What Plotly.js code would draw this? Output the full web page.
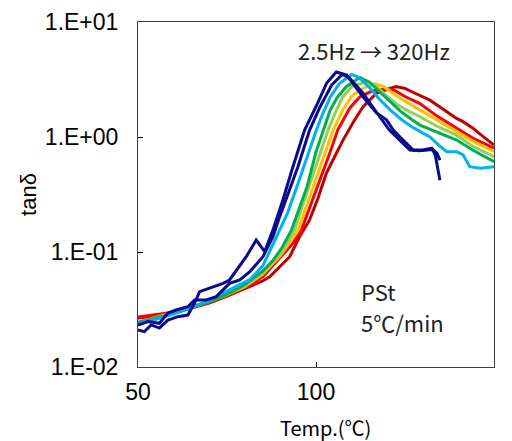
<!DOCTYPE html>
<html>
<head>
<meta charset="utf-8">
<script src="https://cdn.plot.ly/plotly-3.0.1.min.js"></script>
<style>
  html, body { margin: 0; padding: 0; background: #ffffff; }
  #chart { width: 512px; height: 441px; }
</style>
</head>
<body>
<div id="chart"></div>
<script>
// Frequencies (2.5Hz -> 320Hz)
const seriesNames = ['2.5Hz', '5Hz', '10Hz', '20Hz', '40Hz', '80Hz', '160Hz', '320Hz'];
const seriesColors = ['#0a0a8c', '#0a0a8c', '#00b0f0', '#00b050', '#92d050', '#ffc000', '#ff0000', '#c00000'];

// Temperature (°C) and tanδ for each frequency
const temp_2_5Hz = [50, 51.8, 53.7, 56, 58.4, 61.2, 64, 65.9, 67.3, 70.1, 73.9, 75.7, 78.6, 80.4, 83.2, 85.6, 87.9, 90.7, 93.5, 96.8, 100.5, 103, 105.7, 108.6, 113.2, 117, 119.8, 121.7, 123.6, 126.4, 127.3, 130, 132.5, 133.5, 134.8];
const tan_2_5Hz  = [0.021, 0.0203, 0.0232, 0.0218, 0.0256, 0.0274, 0.0283, 0.036, 0.0452, 0.0484, 0.0534, 0.0571, 0.0771, 0.091, 0.127, 0.1007, 0.155, 0.283, 0.548, 1.15, 1.98, 2.95, 3.67, 3.46, 2.24, 1.62, 1.41, 1.15, 1.0, 0.82, 0.77, 0.77, 0.80, 0.70, 0.42];

const temp_5Hz = [50, 52.8, 56, 58.4, 60.7, 64, 65.9, 69.2, 72, 75.7, 78.6, 81.4, 85.1, 87.9, 89.8, 94.9, 98.2, 101, 104.4, 107.4, 109.4, 113.2, 117.9, 120.6, 124.3, 126.4, 129, 132.8, 134, 134.8];
const tan_5Hz  = [0.0232, 0.0248, 0.024, 0.0295, 0.0313, 0.0334, 0.0383, 0.0383, 0.0409, 0.0534, 0.0571, 0.0674, 0.091, 0.136, 0.203, 0.548, 1.15, 1.79, 2.83, 3.5, 3.26, 2.41, 1.50, 1.15, 0.887, 0.77, 0.76, 0.78, 0.72, 0.63];

const temp_10Hz = [50, 55, 60, 65, 70, 75.7, 81.4, 85.1, 87.9, 89.8, 92, 95, 98, 100.1, 102, 104, 106.5, 110, 112, 115, 118, 121, 124, 127, 129.2, 132, 134.5, 136.7, 139.5, 141.3, 143.2, 146.1, 150];
const tan_10Hz  = [0.024, 0.026, 0.029, 0.033, 0.038, 0.047, 0.0575, 0.076, 0.118, 0.155, 0.218, 0.398, 0.74, 1.15, 1.62, 2.22, 2.9, 3.5, 3.3, 2.7, 2.1, 1.7, 1.42, 1.22, 1.12, 1.0, 0.85, 0.745, 0.745, 0.70, 0.552, 0.536, 0.552];

const temp_20Hz = [50, 60, 70, 75, 80, 85, 88, 90.5, 93.1, 95, 97.5, 100, 102, 104, 106, 108.5, 112.3, 115, 118, 121, 124, 126.5, 129.2, 134, 139.5, 144, 147, 150];
const tan_20Hz  = [0.0245, 0.029, 0.037, 0.043, 0.052, 0.068, 0.085, 0.11, 0.155, 0.222, 0.37, 0.74, 1.15, 1.72, 2.22, 2.74, 3.3, 3.0, 2.45, 2.0, 1.65, 1.45, 1.27, 1.10, 0.94, 0.77, 0.68, 0.61];

const temp_40Hz = [50, 60, 70, 75, 80, 85, 90, 94, 96, 98.5, 101, 103.4, 105.5, 107.5, 110, 114.5, 117, 120, 123, 126, 129.2, 134, 139.5, 144, 150];
const tan_40Hz  = [0.0242, 0.0293, 0.037, 0.0425, 0.051, 0.066, 0.097, 0.155, 0.241, 0.41, 0.70, 1.15, 1.65, 2.22, 2.74, 3.05, 2.75, 2.25, 1.9, 1.68, 1.50, 1.24, 1.04, 0.83, 0.674];

const temp_80Hz = [50, 55, 60, 65, 70, 75, 80, 85, 90, 93, 95, 96.8, 99.6, 102.4, 104.8, 107.5, 110, 112.9, 116.5, 119, 122, 125, 129.2, 134, 139.5, 144, 150];
const tan_80Hz  = [0.0245, 0.027, 0.0295, 0.033, 0.037, 0.0425, 0.050, 0.064, 0.093, 0.125, 0.155, 0.226, 0.404, 0.72, 1.15, 1.72, 2.26, 2.63, 2.9, 2.75, 2.35, 2.05, 1.72, 1.40, 1.11, 0.92, 0.745];

const temp_160Hz = [50, 55, 60, 65, 70, 75.7, 80, 85.1, 89, 93.5, 95.9, 98.2, 101, 103.9, 106.1, 109.5, 112.3, 115.7, 119.8, 122, 125, 129.2, 134, 139.5, 144, 150];
const tan_160Hz  = [0.0272, 0.0285, 0.030, 0.033, 0.037, 0.0423, 0.049, 0.061, 0.083, 0.119, 0.155, 0.24, 0.42, 0.73, 1.15, 1.79, 2.23, 2.51, 2.61, 2.55, 2.25, 1.95, 1.52, 1.19, 0.98, 0.80];

const temp_320Hz = [50, 55, 60, 65, 70, 75, 80, 85, 87, 92.6, 95.4, 98.2, 100.5, 102.9, 105.3, 107.6, 110.5, 113.2, 117, 120.7, 122.6, 125, 127.2, 130, 132, 134.5, 136.7, 139.5, 141.3, 144, 146.1, 148, 150];
const tan_320Hz  = [0.0267, 0.0278, 0.0295, 0.0326, 0.036, 0.0414, 0.048, 0.056, 0.061, 0.091, 0.136, 0.19, 0.29, 0.483, 0.68, 0.94, 1.35, 1.83, 2.40, 2.65, 2.74, 2.65, 2.45, 2.24, 2.09, 1.85, 1.67, 1.45, 1.36, 1.2, 1.06, 0.95, 0.85];

const temps = [temp_2_5Hz, temp_5Hz, temp_10Hz, temp_20Hz, temp_40Hz, temp_80Hz, temp_160Hz, temp_320Hz];
const tans  = [tan_2_5Hz, tan_5Hz, tan_10Hz, tan_20Hz, tan_40Hz, tan_80Hz, tan_160Hz, tan_320Hz];

// Axis ticks
const xTickVals = [50, 100, 150];
const xTickText = ['50', '100', '150'];
const yTickVals = [0.01, 0.1, 1, 10];
const yTickText = ['1.E-02', '1.E-01', '1.E+00', '1.E+01'];

// Draw 320Hz first so 2.5Hz ends on top
const traces = [];
for (let i = seriesNames.length - 1; i >= 0; i--) {
  traces.push({
    type: 'scatter', mode: 'lines', name: seriesNames[i],
    x: temps[i], y: tans[i],
    line: { color: seriesColors[i], width: 3 },
    showlegend: false, hoverinfo: 'skip'
  });
}

const latin = 'Liberation Sans, Arial, sans-serif';
const cjkFont = 'Noto Sans CJK JP, Noto Sans, sans-serif';
const axisFont = { family: latin, size: 23, color: '#000' };

const layout = {
  width: 512, height: 441,
  margin: { l: 138, r: 18, t: 22, b: 74 },
  paper_bgcolor: '#ffffff', plot_bgcolor: '#ffffff',
  showlegend: false,
  xaxis: {
    range: [50, 150], tickvals: xTickVals, ticktext: xTickText,
    ticks: 'inside', ticklen: 5, tickcolor: '#000', tickwidth: 1,
    showline: true, linecolor: '#404040', linewidth: 1, mirror: true,
    showgrid: false, zeroline: false,
    tickfont: axisFont, ticklabelstandoff: 4
  },
  yaxis: {
    type: 'log', range: [-2, 1], tickvals: yTickVals, ticktext: yTickText,
    ticks: 'inside', ticklen: 5, tickcolor: '#000', tickwidth: 1,
    showline: true, linecolor: '#404040', linewidth: 1, mirror: true,
    showgrid: false, zeroline: false,
    tickfont: axisFont, ticklabelstandoff: 14,
    title: { text: 'tanδ', font: { family: latin, size: 22, color: '#000' }, standoff: 2 }
  },
  annotations: [
    { text: 'Temp.(℃)', xref: 'paper', yref: 'paper', x: 0.528, y: -0.176, xanchor: 'center', yanchor: 'middle',
      showarrow: false, font: { family: cjkFont, size: 20, color: '#000' } },
    { text: '2.5Hz → 320Hz', xref: 'paper', yref: 'paper', x: 0.663, y: 0.919, xanchor: 'center', yanchor: 'middle',
      showarrow: false, font: { family: cjkFont, size: 22, color: '#222' } },
    { text: 'PSt', xref: 'paper', yref: 'paper', x: 0.622, y: 0.22, xanchor: 'left', yanchor: 'middle',
      showarrow: false, font: { family: cjkFont, size: 22, color: '#222' } },
    { text: '5℃/min', xref: 'paper', yref: 'paper', x: 0.622, y: 0.13, xanchor: 'left', yanchor: 'middle',
      showarrow: false, font: { family: cjkFont, size: 22, color: '#222' } }
  ]
};

Plotly.newPlot('chart', traces, layout, { displayModeBar: false, staticPlot: true });
</script>
</body>
</html>
